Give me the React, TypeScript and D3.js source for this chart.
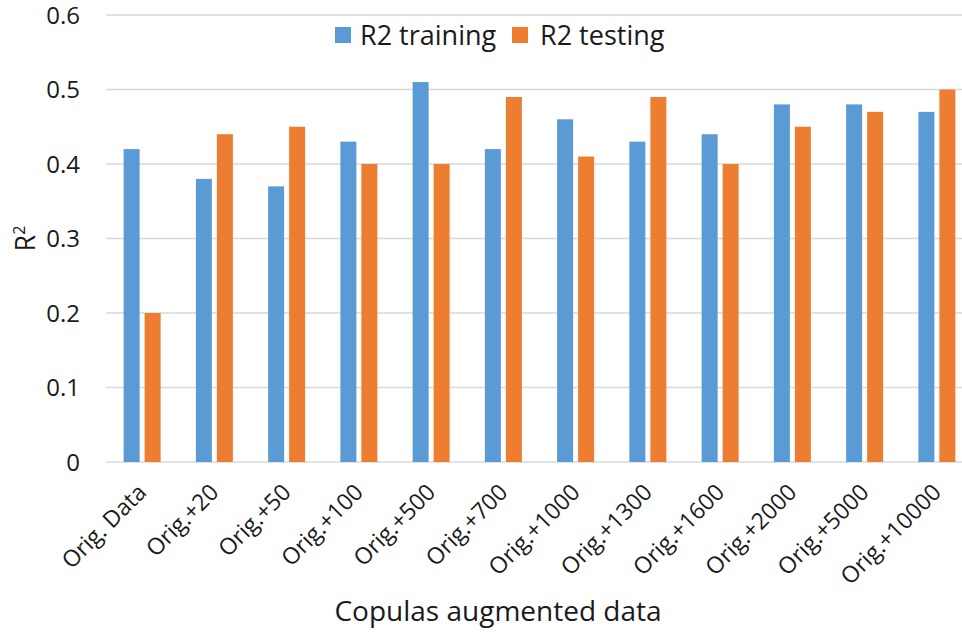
import React from "react";
import * as d3 from "d3";

const categories = [
  "Orig. Data", "Orig.+20", "Orig.+50", "Orig.+100", "Orig.+500", "Orig.+700",
  "Orig.+1000", "Orig.+1300", "Orig.+1600", "Orig.+2000", "Orig.+5000", "Orig.+10000",
];
const training = [0.42, 0.38, 0.37, 0.43, 0.51, 0.42, 0.46, 0.43, 0.44, 0.48, 0.48, 0.47];
const testing = [0.2, 0.44, 0.45, 0.4, 0.4, 0.49, 0.41, 0.49, 0.4, 0.45, 0.47, 0.5];
const yTicks = [0, 0.1, 0.2, 0.3, 0.4, 0.5, 0.6];

const width = 962;
const height = 632;
const marginLeft = 106;
const plotRight = 973; // plot runs slightly past the picture edge
const yTop = 15;
const yBottom = 462;
const font = "'Open Sans', sans-serif";
const blue = "#5B9BD5";
const orange = "#ED7D31";
const ink = "#1a1a1a";

export default function App() {
  const x = d3.scaleBand<string>().domain(categories).range([marginLeft, plotRight]);
  const y = d3.scaleLinear().domain([0, 0.6]).range([yBottom, yTop]);
  const barW = 16;
  const gap = 5;

  return (
    <svg
      width={width}
      height={height}
      style={{ position: "absolute", left: 0, top: 0, background: "#fff" }}
    >
      {/* grid */}
      {yTicks.map((t) => (
        <line
          key={t}
          x1={marginLeft}
          x2={plotRight}
          y1={y(t)}
          y2={y(t)}
          stroke="#d9d9d9"
          strokeWidth={1.5}
        />
      ))}
      {yTicks.map((t) => (
        <text
          key={"l" + t}
          x={80}
          y={y(t)}
          dy="0.36em"
          textAnchor="end"
          fontFamily={font}
          fontSize={24}
          fill={ink}
        >
          {t === 0 ? "0" : t.toFixed(1)}
        </text>
      ))}

      {/* bars */}
      {categories.map((c, i) => {
        const cx = (x(c) ?? 0) + x.bandwidth() / 2;
        return (
          <g key={c}>
            <rect
              x={cx - gap / 2 - barW}
              y={y(training[i])}
              width={barW}
              height={y(0) - y(training[i])}
              fill={blue}
            />
            <rect
              x={cx + gap / 2}
              y={y(testing[i])}
              width={barW}
              height={y(0) - y(testing[i])}
              fill={orange}
            />
            <text
              transform={`translate(${cx - 6},${yBottom + 20}) rotate(-45)`}
              textAnchor="end"
              dy="0.72em"
              fontFamily={font}
              fontSize={23}
              fill={ink}
            >
              {c}
            </text>
          </g>
        );
      })}

      {/* legend */}
      <rect x={335} y={27} width={16} height={16} fill={blue} />
      <text x={360} y={45} fontFamily={font} fontSize={27} fill={ink}>
        R2 training
      </text>
      <rect x={512} y={27} width={16} height={16} fill={orange} />
      <text x={540} y={45} fontFamily={font} fontSize={27} fill={ink}>
        R2 testing
      </text>

      {/* axis titles */}
      <text
        transform={`translate(35,${(yTop + yBottom) / 2}) rotate(-90)`}
        textAnchor="middle"
        fontFamily={font}
        fontSize={27}
        fill={ink}
      >
        R<tspan dy="-10" fontSize={16}>2</tspan>
      </text>
      <text
        x={498}
        y={621}
        textAnchor="middle"
        fontFamily={font}
        fontSize={28}
        fill={ink}
      >
        Copulas augmented data
      </text>
    </svg>
  );
}
